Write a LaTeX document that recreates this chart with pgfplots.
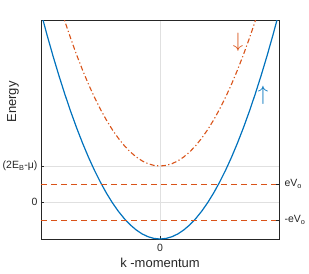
\documentclass[border=0pt]{standalone}
\usepackage{fontspec}
\setmainfont{Liberation Sans}
\usepackage{pgfplots}
\pgfplotsset{compat=1.18}
\definecolor{mblue}{rgb}{0,0.447,0.741}
\definecolor{morange}{rgb}{0.851,0.325,0.098}
\definecolor{axgray}{rgb}{0.15,0.15,0.15}
\begin{document}
\begin{tikzpicture}
\begin{axis}[name=ax,
  scale only axis, width=238pt, height=219pt,
  xmin=-1, xmax=1, ymin=-1.028, ymax=5.056,
  xtick={0}, xticklabels={0},
  ytick={0,1}, yticklabels={0,(2E\textsubscript{B}-μ)},
  tick align=inside, tick pos=left,
  major tick length=3pt,
  grid=major, major grid style={draw=black!12, line width=0.5pt},
  axis line style={draw=axgray, line width=0.6pt},
  every tick/.style={draw=axgray},
  /pgf/number format/assume math mode=true,
  tick label style={font=\fontsize{10.5}{12}\selectfont, text=axgray},
  xticklabel style={yshift=-2pt},
  xlabel={k -momentum}, ylabel={Energy},
  label style={font=\fontsize{13}{14}\selectfont, text=axgray},
  xlabel style={at={(axis description cs:0.5,-0.11)}, anchor=center},
  ylabel style={at={(axis description cs:-0.118,0.626)}, anchor=center},
  clip=true,
]
\addplot[mblue, line width=1.2pt] coordinates {
(-1,5.262)(-0.95,4.649)(-0.9,4.067)(-0.85,3.517)(-0.8,2.998)(-0.75,2.510)(-0.7,2.054)(-0.65,1.630)(-0.6,1.236)(-0.55,0.875)(-0.5,0.545)(-0.45,0.246)(-0.4,-0.022)(-0.35,-0.258)(-0.3,-0.462)(-0.25,-0.635)(-0.2,-0.776)(-0.15,-0.887)(-0.1,-0.965)(-0.05,-1.012)(0,-1.028)
(0.05,-1.012)(0.1,-0.965)(0.15,-0.887)(0.2,-0.776)(0.25,-0.635)(0.3,-0.462)(0.35,-0.258)(0.4,-0.022)(0.45,0.246)(0.5,0.545)(0.55,0.875)(0.6,1.236)(0.65,1.630)(0.7,2.054)(0.75,2.510)(0.8,2.998)(0.85,3.517)(0.9,4.067)(0.95,4.649)(1,5.262)
};
\addplot[morange, line width=1.1pt, dash pattern=on 5pt off 2.5pt on 1.2pt off 2.5pt] coordinates {
(-0.85,5.545)(-0.8,5.026)(-0.75,4.538)(-0.7,4.082)(-0.65,3.658)(-0.6,3.264)(-0.55,2.903)(-0.5,2.573)(-0.45,2.274)(-0.4,2.006)(-0.35,1.771)(-0.3,1.566)(-0.25,1.393)(-0.2,1.252)(-0.15,1.142)(-0.1,1.063)(-0.05,1.016)(0,1)
(0.05,1.016)(0.1,1.063)(0.15,1.142)(0.2,1.252)(0.25,1.393)(0.3,1.566)(0.35,1.771)(0.4,2.006)(0.45,2.274)(0.5,2.573)(0.55,2.903)(0.6,3.264)(0.65,3.658)(0.7,4.082)(0.75,4.538)(0.8,5.026)(0.85,5.545)
};
\addplot[morange, line width=0.9pt, dash pattern=on 6pt off 4pt] coordinates {(-1,0.5)(1,0.5)};
\addplot[morange, line width=0.9pt, dash pattern=on 6pt off 4pt] coordinates {(-1,-0.5)(1,-0.5)};
\node[text=morange, font=\fontsize{20}{20}\selectfont, inner sep=0pt] at (axis cs:0.655,4.43) {$\downarrow$};
\node[text=mblue, font=\fontsize{20}{20}\selectfont, inner sep=0pt] at (axis cs:0.866,2.97) {$\uparrow$};
\end{axis}
\begin{axis}[
  scale only axis, width=238pt, height=219pt,
  xmin=-1, xmax=1, ymin=-1.028, ymax=5.056,
  axis x line=none, axis y line*=right,
  ytick={-0.5,0.5}, yticklabels={-eV\textsubscript{o},eV\textsubscript{o}},
  tick align=inside, major tick length=3pt,
  axis line style={draw=axgray, line width=0.6pt},
  every tick/.style={draw=axgray},
  tick label style={font=\fontsize{10.5}{12}\selectfont, text=axgray},
  yticklabel style={xshift=2pt},
]
\addplot[draw=none] coordinates {(0,0)};
\end{axis}
\pgfresetboundingbox
\path ([shift={(-41pt,-34pt)}]ax.south west) rectangle ([shift={(30pt,20pt)}]ax.north east);
\end{tikzpicture}
\end{document}
